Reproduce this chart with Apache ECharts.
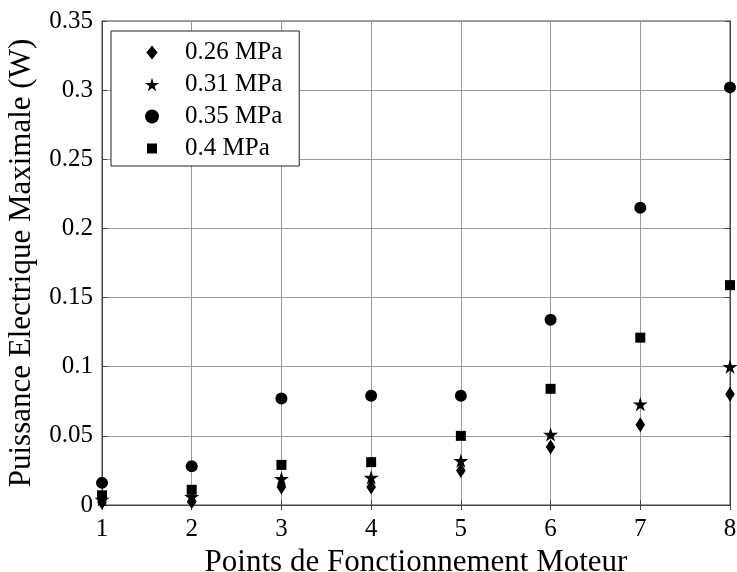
<!DOCTYPE html>
<html lang="fr">
<head>
	<meta charset="UTF-8">
	<title>Puissance Electrique Maximale</title>
	<style>
		html, body { margin: 0; padding: 0; background: #fff; }
	</style>
</head>
<body>
	<div id="container" style="width: 737px;height:572px;"></div>

	<script src="https://cdn.jsdelivr.net/npm/echarts@6/dist/echarts.min.js"></script>
	<script>
        // points de fonctionnement
        var points = [1, 2, 3, 4, 5, 6, 7, 8];
        var p026 = [0.002, 0.0025, 0.013, 0.013, 0.025, 0.042, 0.058, 0.080];
        var p031 = [0.004, 0.006, 0.019, 0.020, 0.032, 0.051, 0.073, 0.100];
        var p035 = [0.016, 0.028, 0.077, 0.079, 0.079, 0.134, 0.215, 0.302];
        var p040 = [0.007, 0.011, 0.029, 0.031, 0.050, 0.084, 0.121, 0.159];
        var names = ['0.26 MPa', '0.31 MPa', '0.35 MPa', '0.4 MPa'];
        var yTicks = ['0', '0.05', '0.1', '0.15', '0.2', '0.25', '0.3', '0.35'];

        var diamond = 'path://M6,0 L12,7.5 L6,15 L0,7.5 Z';
        var star = 'path://M50,0 L61,35 L98,35 L68,57 L79,91 L50,70 L21,91 L32,57 L2,35 L39,35 Z';
        var square = 'path://M0,0 L10,0 L10,10 L0,10 Z';
        var symbols = [diamond, star, 'circle', square];
        var sizes = [[12, 15], 15, 12, 10];
        // legend square drawn a bit smaller than the other icons
        var legendIcons = [diamond, star, 'circle', 'path://M2,2 L12,2 L12,12 L2,12 Z M0,0 L0.01,0 L0.01,14 L14,14 L14,14.01 L0,14.01 Z'];

        function pairs(vals) {
            return points.map(function (x, i) { return [x, vals[i]]; });
        }

        var font = '"Liberation Serif", "Times New Roman", serif';
        var allData = [p026, p031, p035, p040];

        var option = {
            backgroundColor: '#fff',
            animation: false,
            textStyle: { fontFamily: font, color: '#000' },
            grid: {
                left: 102, right: 7, top: 21, bottom: 67,
                containLabel: false, outerBoundsMode: 'none',
                show: true, borderColor: '#444', borderWidth: 1
            },
            legend: {
                orient: 'vertical',
                left: 111,
                top: 31,
                backgroundColor: '#fff',
                borderColor: '#222',
                borderWidth: 1,
                borderRadius: 0,
                padding: [9, 17, 5, 34],
                itemWidth: 14,
                itemHeight: 14,
                itemGap: 7,
                symbolKeepAspect: true,
                textStyle: { fontFamily: font, fontSize: 25, lineHeight: 25, color: '#000', padding: [0, 0, 0, 21] },
                data: names.map(function (n, i) {
                    return { name: n, icon: legendIcons[i] };
                })
            },
            xAxis: [{
                type: 'value',
                min: 1, max: 8, interval: 1,
                name: 'Points de Fonctionnement Moteur',
                nameLocation: 'middle',
                nameGap: 36,
                nameTextStyle: { fontFamily: font, fontSize: 31, color: '#000' },
                axisLine: { show: true, lineStyle: { color: '#444' } },
                axisTick: { show: true, inside: true, length: 5, lineStyle: { color: '#444' } },
                axisLabel: { fontFamily: font, fontSize: 25, color: '#000', margin: 12 },
                splitLine: { show: true, lineStyle: { color: '#999', width: 1 } }
            }, {
                type: 'value', position: 'top',
                min: 1, max: 8, interval: 1,
                axisLine: { show: true, lineStyle: { color: '#444' } },
                axisTick: { show: true, inside: true, length: 5, lineStyle: { color: '#444' } },
                axisLabel: { show: false },
                splitLine: { show: false }
            }],
            yAxis: [{
                type: 'value',
                min: 0, max: 0.35, interval: 0.05,
                name: 'Puissance Electrique Maximale (W)',
                nameLocation: 'middle',
                nameGap: 65,
                nameTextStyle: { fontFamily: font, fontSize: 31, color: '#000' },
                axisLine: { show: true, lineStyle: { color: '#444' } },
                axisTick: { show: true, inside: true, length: 5, lineStyle: { color: '#444' } },
                axisLabel: {
                    fontFamily: font, fontSize: 25, color: '#000', margin: 9,
                    formatter: function (v) { return yTicks[Math.round(v / 0.05)]; }
                },
                splitLine: { show: true, lineStyle: { color: '#999', width: 1 } }
            }, {
                type: 'value', position: 'right',
                min: 0, max: 0.35, interval: 0.05,
                axisLine: { show: true, lineStyle: { color: '#444' } },
                axisTick: { show: true, inside: true, length: 5, lineStyle: { color: '#444' } },
                axisLabel: { show: false },
                splitLine: { show: false }
            }],
            series: allData.map(function (vals, i) {
                return {
                    name: names[i],
                    type: 'scatter',
                    symbol: symbols[i],
                    symbolSize: sizes[i],
                    symbolKeepAspect: true,
                    itemStyle: { color: '#000', opacity: 1 },
                    clip: false,
                    z: 3,
                    data: pairs(vals)
                };
            })
        };
        var myChart = echarts.init(document.getElementById('container'));
        myChart.setOption(option);
    </script>
</body>
</html>
